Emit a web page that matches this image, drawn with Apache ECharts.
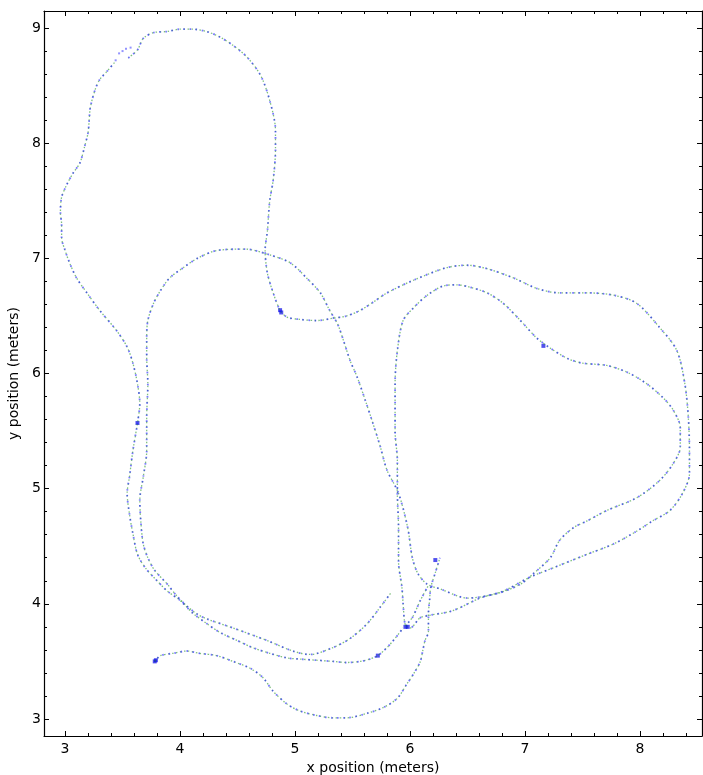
<!DOCTYPE html>
<html lang="en">

<head>
    <meta charset="UTF-8">
    <title>trajectory</title>
    <style>
        html, body { margin: 0; padding: 0; background: #fff; }
        #traj { width: 703px; height: 775px; }
    </style>
    <script src="https://cdn.jsdelivr.net/npm/echarts@6/dist/echarts.min.js"></script>
</head>

<body>
    <div id="traj"></div>
    <script>
        // axis ticks (meters)
        var xMajor = [3, 4, 5, 6, 7, 8];
        var xMinor = [3.2, 3.4, 3.6, 3.8, 4.2, 4.4, 4.6, 4.8, 5.2, 5.4, 5.6, 5.8, 6.2, 6.4, 6.6, 6.8,
            7.2, 7.4, 7.6, 7.8, 8.2, 8.4];
        var yMajor = [3, 4, 5, 6, 7, 8, 9];
        var yMinor = [3.2, 3.4, 3.6, 3.8, 4.2, 4.4, 4.6, 4.8, 5.2, 5.4, 5.6, 5.8, 6.2, 6.4, 6.6, 6.8,
            7.2, 7.4, 7.6, 7.8, 8.2, 8.4, 8.6, 8.8, 9.0];

        // path pieces, [x, y] in meters
        var startLoop = [
            [3.78, 3.50], [3.83, 3.55], [3.94, 3.57], [4.06, 3.59], [4.17, 3.57], [4.32, 3.55],
            [4.46, 3.50], [4.61, 3.44], [4.72, 3.36], [4.81, 3.24], [4.93, 3.13], [5.04, 3.07],
            [5.19, 3.03], [5.33, 3.01], [5.45, 3.01], [5.63, 3.05], [5.77, 3.10], [5.89, 3.18],
            [5.97, 3.30], [6.03, 3.39], [6.09, 3.50], [6.11, 3.59], [6.13, 3.68], [6.16, 3.76],
            [6.16, 3.91], [6.17, 4.03], [6.18, 4.14], [6.22, 4.27], [6.26, 4.40]
        ];
        var mainPath = [
            [5.83, 4.09], [5.74, 3.97], [5.63, 3.83], [5.48, 3.70], [5.33, 3.62], [5.13, 3.56],
            [4.98, 3.59], [4.76, 3.68], [4.46, 3.79], [4.23, 3.87], [4.15, 3.91], [4.06, 3.98],
            [3.97, 4.07], [3.89, 4.17], [3.78, 4.29], [3.72, 4.40], [3.68, 4.52], [3.66, 4.70],
            [3.65, 4.90], [3.68, 5.10], [3.71, 5.33], [3.71, 5.62], [3.72, 5.91], [3.71, 6.14],
            [3.71, 6.31], [3.72, 6.46], [3.77, 6.61], [3.83, 6.72], [3.91, 6.83], [4.03, 6.92],
            [4.15, 7.00], [4.33, 7.07], [4.57, 7.08], [4.78, 7.03], [4.96, 6.96], [5.10, 6.83],
            [5.22, 6.70], [5.30, 6.55], [5.37, 6.43], [5.42, 6.29], [5.48, 6.11], [5.54, 5.97],
            [5.61, 5.77], [5.67, 5.59], [5.74, 5.37], [5.80, 5.16], [5.90, 4.96], [5.98, 4.66],
            [6.02, 4.40], [6.07, 4.26], [6.15, 4.17], [6.26, 4.13], [6.50, 4.05], [6.76, 4.09],
            [6.96, 4.17], [7.07, 4.26], [7.22, 4.40], [7.30, 4.55], [7.42, 4.66], [7.54, 4.72],
            [7.71, 4.81], [7.97, 4.92], [8.17, 5.07], [8.29, 5.22], [8.35, 5.36], [8.35, 5.53],
            [8.29, 5.68], [8.20, 5.79], [8.06, 5.91], [7.89, 6.01], [7.71, 6.07], [7.50, 6.09],
            [7.37, 6.13], [7.22, 6.22], [7.10, 6.31], [6.96, 6.46], [6.81, 6.61], [6.67, 6.70],
            [6.52, 6.75], [6.41, 6.77], [6.29, 6.76], [6.15, 6.68], [6.03, 6.57], [5.94, 6.46],
            [5.89, 6.20], [5.87, 5.91], [5.87, 5.50], [5.89, 5.24], [5.89, 4.96], [5.90, 4.66],
            [5.90, 4.37], [5.93, 4.14], [5.94, 4.00], [5.96, 3.81], [6.00, 3.79], [6.09, 3.88],
            [6.17, 3.90], [6.37, 3.94], [6.61, 4.05], [6.81, 4.11], [7.04, 4.23], [7.24, 4.31],
            [7.54, 4.43], [7.77, 4.52], [7.97, 4.63], [8.11, 4.72], [8.26, 4.81], [8.37, 4.96],
            [8.43, 5.13], [8.43, 5.33], [8.42, 5.62], [8.39, 5.91], [8.32, 6.20], [8.17, 6.40],
            [7.97, 6.61], [7.77, 6.68], [7.54, 6.70], [7.30, 6.70], [7.10, 6.74], [6.90, 6.83],
            [6.67, 6.91], [6.50, 6.94], [6.32, 6.92], [6.03, 6.81], [5.80, 6.70], [5.68, 6.62],
            [5.57, 6.55], [5.45, 6.50], [5.33, 6.48], [5.19, 6.46], [5.04, 6.47], [4.93, 6.49],
            [4.87, 6.55], [4.81, 6.70], [4.76, 6.87], [4.74, 7.07], [4.76, 7.24], [4.78, 7.50],
            [4.81, 7.68], [4.83, 7.94], [4.83, 8.11], [4.78, 8.37], [4.70, 8.59], [4.58, 8.75],
            [4.46, 8.85], [4.35, 8.92], [4.23, 8.97], [4.11, 8.99], [4.00, 8.99], [3.89, 8.97],
            [3.77, 8.96], [3.68, 8.91], [3.63, 8.81], [3.55, 8.74]
        ];
        var leftLoop = [
            [3.43, 8.70], [3.37, 8.63], [3.30, 8.55], [3.26, 8.46], [3.22, 8.31], [3.21, 8.20],
            [3.20, 8.09], [3.17, 7.97], [3.13, 7.83], [3.07, 7.74], [3.02, 7.65], [2.97, 7.53],
            [2.96, 7.39], [2.97, 7.30], [2.97, 7.18], [3.00, 7.07], [3.04, 6.96], [3.10, 6.83],
            [3.19, 6.70], [3.30, 6.55], [3.45, 6.37], [3.54, 6.23], [3.59, 6.09], [3.63, 5.91],
            [3.65, 5.74], [3.63, 5.57], [3.59, 5.33], [3.56, 5.10], [3.54, 4.96], [3.56, 4.78],
            [3.59, 4.61], [3.63, 4.43], [3.70, 4.31], [3.80, 4.20], [3.89, 4.11], [4.00, 4.03],
            [4.11, 3.92], [4.23, 3.83], [4.35, 3.75], [4.50, 3.68], [4.63, 3.62], [4.78, 3.57],
            [4.93, 3.53], [5.04, 3.52], [5.19, 3.51], [5.33, 3.50], [5.45, 3.49], [5.57, 3.50],
            [5.65, 3.52], [5.72, 3.55], [5.80, 3.62], [5.87, 3.70], [5.94, 3.79]
        ];
        var joinStub = [[5.96, 3.81], [6.02, 3.88], [6.09, 4.03], [6.16, 4.16]];
        // blue dots in the gap of the top-left arc
        var gapDots = [[3.44, 8.72], [3.47, 8.78], [3.50, 8.80], [3.53, 8.82], [3.57, 8.83]];
        // spots where the estimate piles up
        var pauseSpots = [[3.78, 3.50], [3.79, 3.51], [4.88, 6.53], [4.87, 6.55], [5.96, 3.80],
            [5.98, 3.80], [5.72, 3.55], [3.63, 5.57], [7.16, 6.24], [6.22, 4.38]];

        var xMin = 2.817, xMax = 8.539, yMin = 2.852, yMax = 9.148;
        var font = 'DejaVu Sans';

        function axis(kind, pos, ticks, len, main) {
            return {
                type: 'value', min: kind === 'x' ? xMin : yMin, max: kind === 'x' ? xMax : yMax,
                position: pos,
                axisLine: { show: main, onZero: false, lineStyle: { color: '#000', width: 1.2 } },
                axisTick: { show: true, inside: true, length: len, customValues: ticks,
                    lineStyle: { color: '#000', width: 1 } },
                axisLabel: { show: false },
                splitLine: { show: false }
            };
        }

        var xAxes = [axis('x', 'bottom', xMajor, 5, true), axis('x', 'bottom', xMinor, 3, false),
            axis('x', 'top', xMajor, 5, true), axis('x', 'top', xMinor, 3, false)];
        var yAxes = [axis('y', 'left', yMajor, 5, true), axis('y', 'left', yMinor, 3, false),
            axis('y', 'right', yMajor, 5, true), axis('y', 'right', yMinor, 3, false)];

        xAxes[0].axisLabel = { show: true, customValues: xMajor, margin: 6, fontSize: 14,
            color: '#000', fontFamily: font };
        xAxes[0].name = 'x position (meters)';
        xAxes[0].nameLocation = 'middle';
        xAxes[0].nameGap = 24;
        xAxes[0].nameTextStyle = { fontSize: 14, color: '#000', fontFamily: font };
        yAxes[0].axisLabel = { show: true, customValues: yMajor, margin: 3, fontSize: 14,
            color: '#000', fontFamily: font };
        yAxes[0].name = 'y position (meters)';
        yAxes[0].nameLocation = 'middle';
        yAxes[0].nameGap = 21;
        yAxes[0].nameTextStyle = { fontSize: 14, color: '#000', fontFamily: font };

        var pieces = [startLoop, mainPath, leftLoop, joinStub];
        var series = [];
        // ground truth: light green dotted line
        pieces.forEach(function (p) {
            series.push({
                type: 'line', data: p, symbol: 'none', smooth: 0.3, silent: true,
                lineStyle: { color: 'rgba(40,150,40,0.6)', width: 1.3, type: [1.5, 2.5] }
            });
        });
        // estimate: sparse blue dots
        pieces.forEach(function (p) {
            series.push({
                type: 'line', data: p, symbol: 'none', smooth: 0.3, silent: true,
                lineStyle: { color: 'rgba(30,30,255,0.6)', width: 1.8, type: [1.6, 4.5], dashOffset: 2 }
            });
        });
        series.push({
            type: 'scatter', data: gapDots, symbol: 'rect', symbolSize: 2, silent: true,
            itemStyle: { color: 'rgba(30,30,255,0.6)' }
        });
        series.push({
            type: 'scatter', data: pauseSpots, symbol: 'rect', symbolSize: 4, silent: true,
            itemStyle: { color: 'rgba(0,0,230,0.85)' }
        });

        var myChart = echarts.init(document.getElementById('traj'));
        myChart.setOption({
            animation: false,
            backgroundColor: '#fff',
            grid: { left: 44, top: 11, width: 658, height: 725, containLabel: false,
                outerBoundsMode: 'none' },
            xAxis: xAxes,
            yAxis: yAxes,
            series: series
        });
    </script>
</body>

</html>
